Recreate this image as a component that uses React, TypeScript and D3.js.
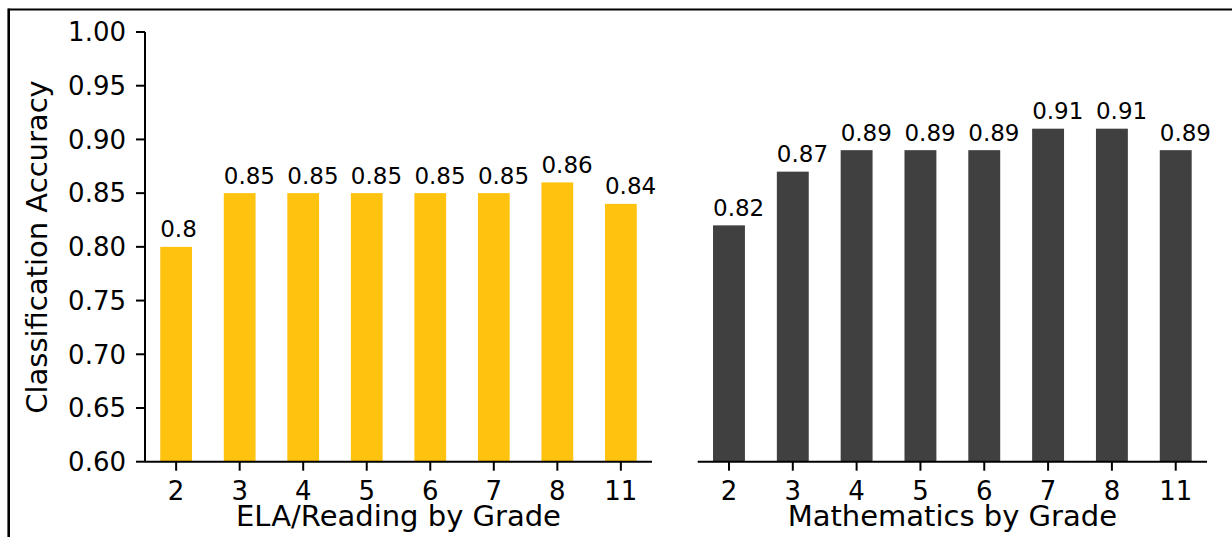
import React from "react";
import * as d3 from "d3";

const grades = ["2", "3", "4", "5", "6", "7", "8", "11"];
const elaValues = [0.8, 0.85, 0.85, 0.85, 0.85, 0.85, 0.86, 0.84];
const mathValues = [0.82, 0.87, 0.89, 0.89, 0.89, 0.91, 0.91, 0.89];
const yTicks = [0.6, 0.65, 0.7, 0.75, 0.8, 0.85, 0.9, 0.95, 1.0];
const panelTitles = ["ELA/Reading by Grade", "Mathematics by Grade"];
const yTitle = "Classification Accuracy";

const W = 1232;
const H = 537;
const FONT = "DejaVu Sans, sans-serif";

const y = d3.scaleLinear().domain([0.6, 1.0]).range([461.7, 32]);

function fmtLabel(v: number) {
  return String(+v.toFixed(2));
}

function Panel({
  x0,
  x1,
  values,
  color,
  title,
  showY,
}: {
  x0: number;
  x1: number;
  values: number[];
  color: string;
  title: string;
  showY: boolean;
}) {
  const x = d3.scalePoint<string>().domain(grades).range([x0, x1]).padding(0.49);
  const step = x.step();
  const bw = step * 0.5;
  const base = y(0.6);
  return (
    <g>
      {values.map((v, i) => {
        const cx = x(grades[i])!;
        return (
          <g key={i}>
            <rect x={cx - bw / 2} y={y(v)} width={bw} height={base - y(v)} fill={color} />
            <text
              x={cx - bw / 2}
              y={y(v) - 9.5}
              textAnchor="start"
              fontSize={23}
              fontFamily={FONT}
              fill="#000"
            >
              {fmtLabel(v)}
            </text>
          </g>
        );
      })}
      <line x1={x0} x2={x1} y1={base} y2={base} stroke="#000" strokeWidth={2} />
      {grades.map((g) => (
        <g key={g}>
          <line x1={x(g)} x2={x(g)} y1={base} y2={base + 9} stroke="#000" strokeWidth={2} />
          <text
            x={x(g)}
            y={499.5}
            textAnchor="middle"
            fontSize={26}
            fontFamily={FONT}
            fill="#000"
          >
            {g}
          </text>
        </g>
      ))}
      <text
        x={(x0 + x1) / 2}
        y={526}
        textAnchor="middle"
        fontSize={29}
        fontFamily={FONT}
        fill="#000"
      >
        {title}
      </text>
      {showY && (
        <g>
          <line x1={x0} x2={x0} y1={y(1.0)} y2={base} stroke="#000" strokeWidth={2} />
          {yTicks.map((t) => (
            <g key={t}>
              <line x1={x0 - 9} x2={x0} y1={y(t)} y2={y(t)} stroke="#000" strokeWidth={2} />
              <text
                x={x0 - 19}
                y={y(t)}
                dy="0.36em"
                textAnchor="end"
                fontSize={26}
                fontFamily={FONT}
                fill="#000"
              >
                {d3.format(".2f")(t)}
              </text>
            </g>
          ))}
          <text
            transform={`translate(47,247) rotate(-90)`}
            textAnchor="middle"
            fontSize={29}
            fontFamily={FONT}
            fill="#000"
          >
            {yTitle}
          </text>
        </g>
      )}
    </g>
  );
}

export default function App() {
  return (
    <svg
      width={W}
      height={H}
      viewBox={`0 0 ${W} ${H}`}
      style={{ position: "absolute", left: 0, top: 0, background: "#fff" }}
    >
      <rect x={0} y={0} width={W} height={H} fill="#fff" />
      <line x1={8.5} x2={W} y1={9.5} y2={9.5} stroke="#000" strokeWidth={2.2} />
      <line x1={8.7} x2={8.7} y1={8.5} y2={H} stroke="#000" strokeWidth={2.6} />
      <Panel x0={145} x1={652} values={elaValues} color="#FFC20E" title={panelTitles[0]} showY />
      <Panel x0={697.7} x1={1207} values={mathValues} color="#404040" title={panelTitles[1]} showY={false} />
    </svg>
  );
}
